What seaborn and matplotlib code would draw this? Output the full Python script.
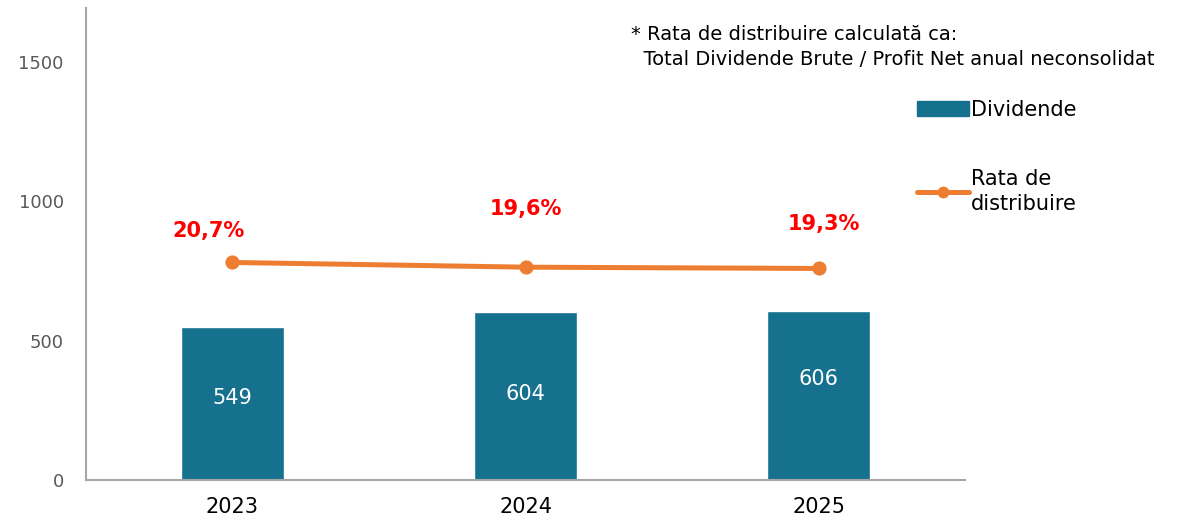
import numpy as np
import pandas as pd
import matplotlib
matplotlib.use("Agg")
import matplotlib.pyplot as plt
import seaborn as sns
from matplotlib.lines import Line2D
from matplotlib.patches import Patch

# data
years = ["2023", "2024", "2025"]
dividende = [549, 604, 606]
rata = [20.7, 19.6, 19.3]
rata_labels = ["20,7%", "19,6%", "19,3%"]

bar_color = "#15718d"
line_color = "#ed7d31"
grey = "#a6a6a6"

sns.set_style("white")
plt.rcParams["font.family"] = ["DejaVu Sans"]

df = pd.DataFrame({"an": years, "dividende": dividende, "rata": rata})

fig = plt.figure(figsize=(11.86, 5.23), dpi=100)
ax = fig.add_axes([0.0725, 0.0822, 0.7412, 0.9025])

sns.barplot(data=df, x="an", y="dividende", color=bar_color, width=0.35,
            saturation=1, ax=ax)
ax.set_ylim(0, 1692)
ax.set_yticks([0, 500, 1000, 1500])
ax.set_xlabel("")
ax.set_ylabel("")
ax.tick_params(axis="y", labelsize=13, labelcolor="#595959", length=0, pad=16)
ax.tick_params(axis="x", labelsize=15, labelcolor="black", length=0, pad=12)
for s in ["top", "right"]:
    ax.spines[s].set_visible(False)
for s in ["left", "bottom"]:
    ax.spines[s].set_color(grey)
    ax.spines[s].set_linewidth(1.5)

# value labels inside bars
bar_dy = [4, 1, 12]
for i, v in enumerate(dividende):
    ax.annotate(str(v), (i, v / 2), xytext=(0, bar_dy[i]), textcoords="offset points",
                ha="center", va="center", color="white", fontsize=15)

# distribution rate on hidden secondary axis
ax2 = ax.twinx()
sns.pointplot(data=df, x="an", y="rata", color=line_color, markers="o",
              markersize=7.5, linewidth=3.6, ax=ax2)
ax2.set_ylim(-30, 80)
ax2.set_xlim(-0.5, 2.5)
ax.set_xlim(-0.5, 2.5)
ax2.axis("off")

lab_off = [(-17, 23), (0, 42), (4, 32)]
for i, (r, t) in enumerate(zip(rata, rata_labels)):
    ax2.annotate(t, (i, r), xytext=lab_off[i], textcoords="offset points",
                 ha="center", va="center", color="#ff0000", fontsize=15,
                 fontweight="bold")

# footnote
fig.text(0.532, 0.911, "* Rata de distribuire calculată ca:\n  Total Dividende Brute / Profit Net anual neconsolidat",
         fontsize=14, color="black", ha="left", va="center", linespacing=1.4)

handles = [Patch(facecolor=bar_color, edgecolor=bar_color),
           Line2D([0], [0], color=line_color, lw=3.6, marker="o", markersize=7.5)]
leg = fig.legend(handles, ["Dividende", "Rata de\ndistribuire"], loc="upper left",
                 bbox_to_anchor=(0.757, 0.845), frameon=False, fontsize=15,
                 handlelength=2.5, handletextpad=0.1, labelspacing=2.35)
for t in leg.get_texts():
    t.set_color("black")
    t.set_linespacing(1.35)

fig.savefig("out.png", dpi=100)
